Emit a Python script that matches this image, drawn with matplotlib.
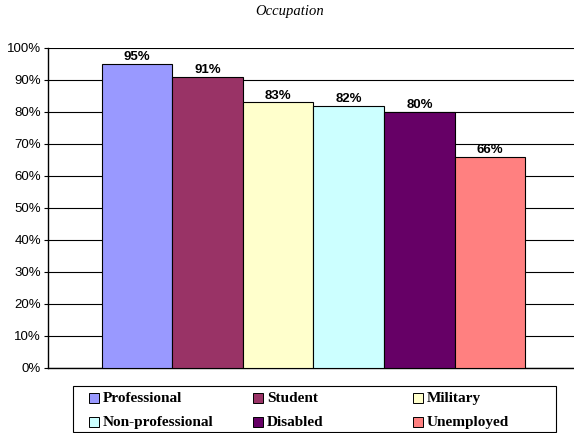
import matplotlib.pyplot as plt
from matplotlib.patches import Rectangle
from matplotlib.ticker import PercentFormatter

categories = ['Professional', 'Student', 'Military', 'Non-professional', 'Disabled', 'Unemployed']
values = [95, 91, 83, 82, 80, 66]
colors = ['#9999FF', '#993366', '#FFFFCC', '#CCFFFF', '#660066', '#FF8080']

W, H = 574, 433
fig = plt.figure(figsize=(W / 100, H / 100), dpi=100)
ax = fig.add_axes([48 / W, 1 - 368 / H, 1 - 48 / W, 320 / H])

x = list(range(len(categories)))
bars = ax.bar(x, values, width=1.0, color=colors, edgecolor='black', linewidth=0.8, zorder=3)
for xi, v in zip(x, values):
    ax.text(xi, v + 0.2, f'{v}%', ha='center', va='bottom', fontsize=9.5,
            fontweight='bold', family='Liberation Sans', zorder=4)

ax.set_xlim(-1.26, 6.19)
ax.set_ylim(0, 100)
ax.set_yticks(range(0, 101, 10))
ax.yaxis.set_major_formatter(PercentFormatter(decimals=0))
ax.set_xticks([])
ax.grid(axis='y', color='black', linewidth=0.8, zorder=0)
for s in ['top', 'right']:
    ax.spines[s].set_visible(False)
ax.spines['left'].set_linewidth(1.0)
ax.spines['bottom'].set_linewidth(1.0)
ax.tick_params(axis='y', length=3, width=0.8, labelsize=9.5, pad=2)
for lbl in ax.get_yticklabels():
    lbl.set_family('Liberation Sans')

fig.text(0.505, 1 - 12 / H, 'Occupation', ha='center', va='center',
         fontsize=10.5, style='italic', family='Liberation Serif')

# legend drawn by hand: Excel spaces the three columns evenly
fig.patches.append(Rectangle((73 / W, 1 - 432 / H), (556 - 73) / W, 46 / H,
                             transform=fig.transFigure, facecolor='white',
                             edgecolor='black', linewidth=0.8))
col_x = [89, 253, 413]
row_y = [398, 422]
for i, (name, c) in enumerate(zip(categories, colors)):
    cx = col_x[i % 3]
    cy = row_y[i // 3]
    fig.patches.append(Rectangle((cx / W, 1 - (cy + 5) / H), 10 / W, 10 / H,
                                 transform=fig.transFigure, facecolor=c,
                                 edgecolor='black', linewidth=0.7))
    fig.text((cx + 14) / W, 1 - (cy + 4) / H, name, ha='left', va='baseline',
             fontsize=11, fontweight='bold', family='Liberation Serif')

fig.savefig('out.png', dpi=100)
